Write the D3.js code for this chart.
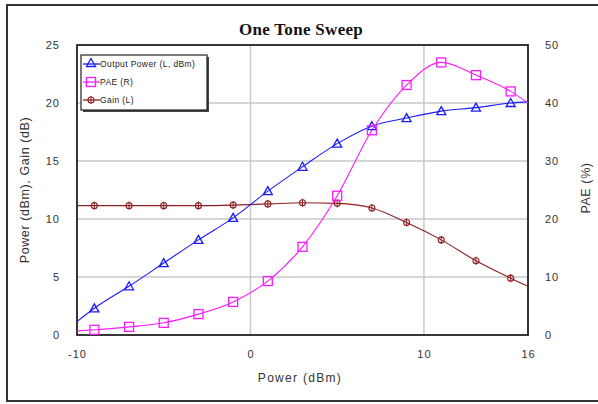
<!DOCTYPE html>
<html><head><meta charset="utf-8">
<script src="https://cdn.jsdelivr.net/npm/d3@7"></script>
<style>body{margin:0;background:#fff;}svg{display:block;}</style>
</head><body>
<script>
// Data
const lineX   = [-10, -9, -7, -5, -3, -1, 1, 3, 5, 7, 9, 11, 13, 15, 16];
const outPow  = [1.15, 2.3, 4.2, 6.2, 8.2, 10.1, 12.4, 14.5, 16.5, 18.0, 18.7, 19.3, 19.6, 20.0, 20.1];
const pae     = [0.7, 0.9, 1.4, 2.1, 3.6, 5.7, 9.3, 15.2, 24.0, 35.3, 43.1, 47.0, 44.8, 42.0, 40.0];
const gain    = [11.15, 11.15, 11.15, 11.15, 11.15, 11.2, 11.3, 11.4, 11.35, 10.95, 9.7, 8.2, 6.4, 4.9, 4.2];
const markerX = [-9, -7, -5, -3, -1, 1, 3, 5, 7, 9, 11, 13, 15];
const xTicks  = [-10, 0, 10, 16];
const yLTicks = [0, 5, 10, 15, 20, 25];
const yRTicks = [0, 10, 20, 30, 40, 50];
const legendItems = ["Output Power (L, dBm)", "PAE (R)", "Gain (L)"];

const W = 598, H = 404;
const m = {l: 77, r: 70, t: 45, b: 69};
const iw = W - m.l - m.r, ih = H - m.t - m.b;

const svg = d3.select("body").append("svg").attr("width", W).attr("height", H);

// outer frame
svg.append("path").attr("d", `M${W+5},5 H7 V401 H${W+5}`)
  .attr("fill", "none").attr("stroke", "#333").attr("stroke-width", 2);

const x = d3.scaleLinear().domain([-10, 16]).range([m.l, m.l + iw]);
const yL = d3.scaleLinear().domain([0, 25]).range([m.t + ih, m.t]);
const yR = d3.scaleLinear().domain([0, 50]).range([m.t + ih, m.t]);

// gridlines
const g = svg.append("g");
g.selectAll(".vg").data([0, 10]).join("line")
  .attr("x1", d => x(d)).attr("x2", d => x(d)).attr("y1", m.t).attr("y2", m.t + ih)
  .attr("stroke", "#c8c8c8").attr("stroke-width", 1.5);
g.selectAll(".hg").data([5, 10, 15, 20]).join("line")
  .attr("y1", d => yL(d)).attr("y2", d => yL(d)).attr("x1", m.l).attr("x2", m.l + iw)
  .attr("stroke", "#c8c8c8").attr("stroke-width", 1.5);

// axes (labels only)
const tickFont = "Liberation Sans, Arial, sans-serif";
const xa = svg.append("g").attr("transform", `translate(0,${m.t + ih})`)
  .call(d3.axisBottom(x).tickValues(xTicks).tickSize(0).tickPadding(15).tickFormat(d => String(d)));
const yla = svg.append("g").attr("transform", `translate(${m.l},0)`)
  .call(d3.axisLeft(yL).tickValues(yLTicks).tickSize(0).tickPadding(17).tickFormat(d => String(d)));
const yra = svg.append("g").attr("transform", `translate(${m.l + iw},0)`)
  .call(d3.axisRight(yR).tickValues(yRTicks).tickSize(0).tickPadding(17).tickFormat(d => String(d)));
[xa, yla, yra].forEach(a => {
  a.select(".domain").remove();
  a.selectAll("text").attr("font-family", tickFont).attr("font-size", 11)
    .attr("fill", "#333").attr("letter-spacing", 1);
});

// plot border
svg.append("rect").attr("x", m.l).attr("y", m.t).attr("width", iw).attr("height", ih)
  .attr("fill", "none").attr("stroke", "#222").attr("stroke-width", 1.8);

const cBlue = "#1a1aff", cPink = "#ff19ff", cGain = "#8c1f1f";

function drawLine(vals, yS, color) {
  const pts = lineX.map((d, i) => [d, vals[i]]);
  svg.append("path").datum(pts)
    .attr("d", d3.line().x(d => x(d[0])).y(d => yS(d[1])).curve(d3.curveMonotoneX))
    .attr("fill", "none").attr("stroke", color).attr("stroke-width", 1.1);
}
drawLine(gain, yL, cGain);
drawLine(outPow, yL, cBlue);
drawLine(pae, yR, cPink);

function valAt(vals, xv) { return vals[lineX.indexOf(xv)]; }

function tri(sel, cx, cy, color) {
  sel.append("path").attr("d", `M${cx},${cy-4.5} L${cx+4.5},${cy+3.5} L${cx-4.5},${cy+3.5} Z`)
    .attr("fill", "none").attr("stroke", color).attr("stroke-width", 1.3);
}
function sq(sel, cx, cy, color) {
  sel.append("rect").attr("x", cx - 4.5).attr("y", cy - 4.5).attr("width", 9).attr("height", 9)
    .attr("fill", "none").attr("stroke", color).attr("stroke-width", 1.3);
}
function circ(sel, cx, cy, color) {
  sel.append("circle").attr("cx", cx).attr("cy", cy).attr("r", 3)
    .attr("fill", "none").attr("stroke", color).attr("stroke-width", 1.1);
  sel.append("line").attr("x1", cx).attr("x2", cx).attr("y1", cy - 4).attr("y2", cy + 4)
    .attr("stroke", color).attr("stroke-width", 1);
}
const mk = svg.append("g");
markerX.forEach(d => {
  circ(mk, x(d), yL(valAt(gain, d)), cGain);
  tri(mk, x(d), yL(valAt(outPow, d)), cBlue);
  sq(mk, x(d), yR(valAt(pae, d)), cPink);
});

// legend
const lg = svg.append("g");
lg.append("rect").attr("x", 83).attr("y", 57).attr("width", 126).attr("height", 55).attr("fill", "#444");
lg.append("rect").attr("x", 81).attr("y", 55).attr("width", 126).attr("height", 55)
  .attr("fill", "#fff").attr("stroke", "#222").attr("stroke-width", 1.2);
const lcol = [cBlue, cPink, cGain];
const lfn = [tri, sq, circ];
legendItems.forEach((t, i) => {
  const yy = 64 + i * 18;
  lg.append("line").attr("x1", 83).attr("x2", 100).attr("y1", yy).attr("y2", yy)
    .attr("stroke", lcol[i]).attr("stroke-width", 1.3);
  lfn[i](lg, 91, yy - (i === 0 ? 1 : 0), lcol[i]);
  lg.append("text").attr("x", 100).attr("y", yy + 3).text(t)
    .attr("font-family", tickFont).attr("font-size", 8.5).attr("letter-spacing", 0.4)
    .attr("fill", "#222");
});

// titles
svg.append("text").attr("x", 301).attr("y", 35).attr("text-anchor", "middle")
  .attr("font-family", "Liberation Serif, Times New Roman, serif").attr("font-weight", "bold")
  .attr("font-size", 17).attr("letter-spacing", 0.3).attr("fill", "#111").text("One Tone Sweep");
svg.append("text").attr("x", 300).attr("y", 382).attr("text-anchor", "middle")
  .attr("font-family", tickFont).attr("font-size", 12).attr("letter-spacing", 1.3)
  .attr("fill", "#333").text("Power (dBm)");
svg.append("text").attr("transform", "translate(29,190) rotate(-90)").attr("text-anchor", "middle")
  .attr("font-family", tickFont).attr("font-size", 12.5).attr("letter-spacing", 0.6)
  .attr("fill", "#333").text("Power (dBm), Gain (dB)");
svg.append("text").attr("transform", "translate(590,188) rotate(-90)").attr("text-anchor", "middle")
  .attr("font-family", tickFont).attr("font-size", 12.5).attr("letter-spacing", 0.6)
  .attr("fill", "#333").text("PAE (%)");
</script>
</body></html>
